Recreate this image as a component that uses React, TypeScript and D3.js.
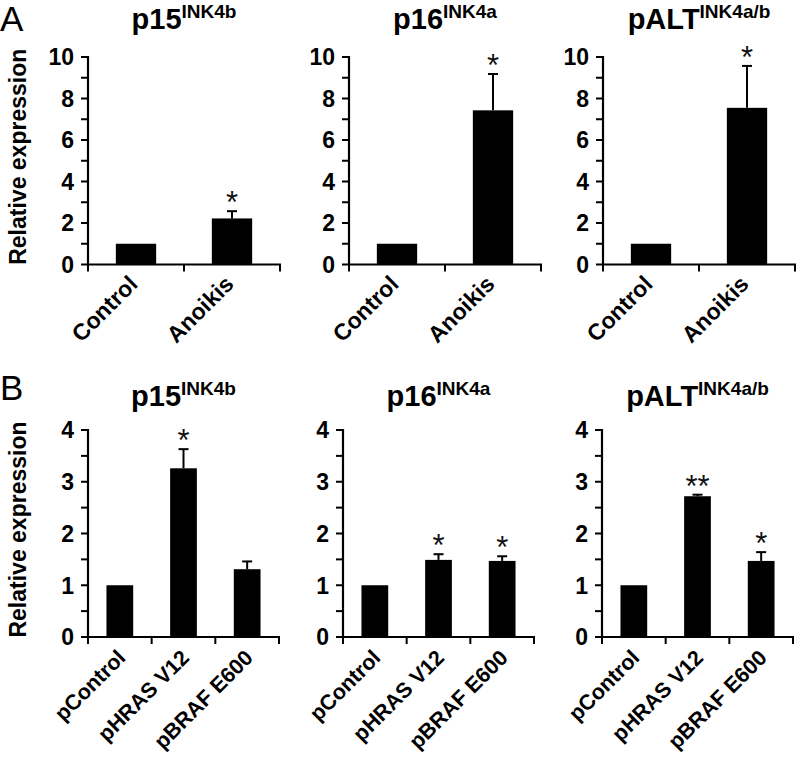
import React from "react";
import * as d3 from "d3";

const rowACategories = ["Control", "Anoikis"];
const rowBCategories = ["pControl", "pHRAS V12", "pBRAF E600"];

const geneNames = ["p15", "p16", "pALT"];
const geneSups = ["INK4b", "INK4a", "INK4a/b"];

// Row A: anoikis
const rowAValues = [
  [1.0, 2.22],
  [1.0, 7.43],
  [1.0, 7.55],
];
const rowAErrors = [
  [0, 0.35],
  [0, 1.75],
  [0, 2.02],
];
const rowAStars = [
  ["", "*"],
  ["", "*"],
  ["", "*"],
];

// Row B: oncogenes
const rowBValues = [
  [1.0, 3.26, 1.31],
  [1.0, 1.49, 1.47],
  [1.0, 2.72, 1.47],
];
const rowBErrors = [
  [0, 0.37, 0.15],
  [0, 0.11, 0.09],
  [0, 0.03, 0.17],
];
const rowBStars = [
  ["", "*", ""],
  ["", "*", "*"],
  ["", "**", "*"],
];

const rowATicks = [0, 2, 4, 6, 8, 10];
const rowBTicks = [0, 1, 2, 3, 4];

const FONT = "'Liberation Sans', Arial, Helvetica, sans-serif";

type PanelProps = {
  x0: number;
  y0: number;
  yTop: number;
  width: number;
  yMax: number;
  ticks: number[];
  minorStep: number;
  categories: string[];
  values: number[];
  errors: number[];
  stars: string[];
  name: string;
  sup: string;
  titleY: number;
  showYLabel: boolean;
  labelDx: number;
  labelDy: number;
  labelSize: number;
};

function Panel(p: PanelProps) {
  const y = d3.scaleLinear().domain([0, p.yMax]).range([p.y0, p.yTop]);
  const x = d3
    .scaleBand<string>()
    .domain(p.categories)
    .range([p.x0, p.x0 + p.width])
    .paddingInner(0.58)
    .paddingOuter(0.29);
  const step = x.step();
  const bw = x.bandwidth();
  const minorTicks = d3.range(0, p.yMax + 1e-9, p.minorStep);
  const boundaries = d3.range(0, p.categories.length + 1).map((i) => p.x0 + i * step);
  const cx = p.x0 + p.width / 2;
  return (
    <g>
      {/* title */}
      <text x={cx} y={p.titleY} textAnchor="middle" fontFamily={FONT} fontWeight="bold" fontSize={29}>
        {p.name}
        <tspan fontSize={19} dy={-11}>{p.sup}</tspan>
      </text>
      {/* bars */}
      {p.categories.map((c, i) => (
        <rect key={c} x={x(c)} y={y(p.values[i])} width={bw} height={p.y0 - y(p.values[i])} fill="#000" />
      ))}
      {/* error bars */}
      {p.categories.map((c, i) => {
        if (!p.errors[i]) return null;
        const bx = (x(c) as number) + bw / 2;
        const top = y(p.values[i] + p.errors[i]);
        return (
          <g key={"e" + c} stroke="#000" strokeWidth={2}>
            <line x1={bx} x2={bx} y1={y(p.values[i])} y2={top} />
            <line x1={bx - 5} x2={bx + 5} y1={top} y2={top} />
          </g>
        );
      })}
      {/* stars */}
      {p.categories.map((c, i) => {
        if (!p.stars[i]) return null;
        const bx = (x(c) as number) + bw / 2;
        const top = y(p.values[i] + p.errors[i]);
        return (
          <text key={"s" + c} x={bx} y={top + 2} textAnchor="middle" fontFamily={FONT} fontSize={31} fill="#111">
            {p.stars[i]}
          </text>
        );
      })}
      {/* y axis */}
      <line x1={p.x0} x2={p.x0} y1={p.yTop - 1} y2={p.y0 + 1} stroke="#000" strokeWidth={2.2} />
      {minorTicks.map((t) => (
        <line key={"m" + t} x1={p.x0 - 7} x2={p.x0} y1={y(t)} y2={y(t)} stroke="#000" strokeWidth={2} />
      ))}
      {p.ticks.map((t) => (
        <text
          key={"t" + t}
          x={p.x0 - 14}
          y={y(t)}
          dy="0.36em"
          textAnchor="end"
          fontFamily={FONT}
          fontWeight="bold"
          fontSize={23}
        >
          {t}
        </text>
      ))}
      {/* x axis */}
      <line x1={p.x0 - 1} x2={p.x0 + p.width + 1} y1={p.y0} y2={p.y0} stroke="#000" strokeWidth={2.2} />
      {boundaries.map((b, i) => (
        <line key={"b" + i} x1={b} x2={b} y1={p.y0} y2={p.y0 + 7} stroke="#000" strokeWidth={2} />
      ))}
      {p.categories.map((c) => {
        const bx = (x(c) as number) + bw / 2 + p.labelDx;
        const by = p.y0 + p.labelDy;
        return (
          <text
            key={"l" + c}
            transform={`translate(${bx},${by}) rotate(-45)`}
            textAnchor="end"
            fontFamily={FONT}
            fontWeight="bold"
            fontSize={p.labelSize}
          >
            {c}
          </text>
        );
      })}
      {p.showYLabel && (
        <text
          transform={`translate(${p.x0 - 62},${(p.y0 + p.yTop) / 2 - 4}) rotate(-90)`}
          textAnchor="middle"
          fontFamily={FONT}
          fontWeight="bold"
          fontSize={23}
        >
          Relative expression
        </text>
      )}
    </g>
  );
}

const rowAX = [88, 349, 603];
const rowBX = [88, 343, 602];

export default function App() {
  return (
    <svg width={796} height={760} style={{ display: "block", position: "absolute", left: 0, top: 0, background: "#fff" }}>
      <rect width={796} height={760} fill="#fff" />
      <text x={0} y={31} fontFamily={FONT} fontSize={35}>A</text>
      <text x={0} y={400} fontFamily={FONT} fontSize={35}>B</text>
      {geneNames.map((g, i) => (
        <Panel
          key={"A" + g}
          x0={rowAX[i]}
          y0={264.5}
          yTop={57}
          width={192}
          yMax={10}
          ticks={rowATicks}
          minorStep={1}
          categories={rowACategories}
          values={rowAValues[i]}
          errors={rowAErrors[i]}
          stars={rowAStars[i]}
          name={g}
          sup={geneSups[i]}
          titleY={29}
          showYLabel={i === 0}
          labelDx={3}
          labelDy={21}
          labelSize={23}
        />
      ))}
      {geneNames.map((g, i) => (
        <Panel
          key={"B" + g}
          x0={rowBX[i]}
          y0={637}
          yTop={430}
          width={191}
          yMax={4}
          ticks={rowBTicks}
          minorStep={0.5}
          categories={rowBCategories}
          values={rowBValues[i]}
          errors={rowBErrors[i]}
          stars={rowBStars[i]}
          name={g}
          sup={geneSups[i]}
          titleY={406}
          showYLabel={i === 0}
          labelDx={7}
          labelDy={22}
          labelSize={21.5}
        />
      ))}
    </svg>
  );
}
